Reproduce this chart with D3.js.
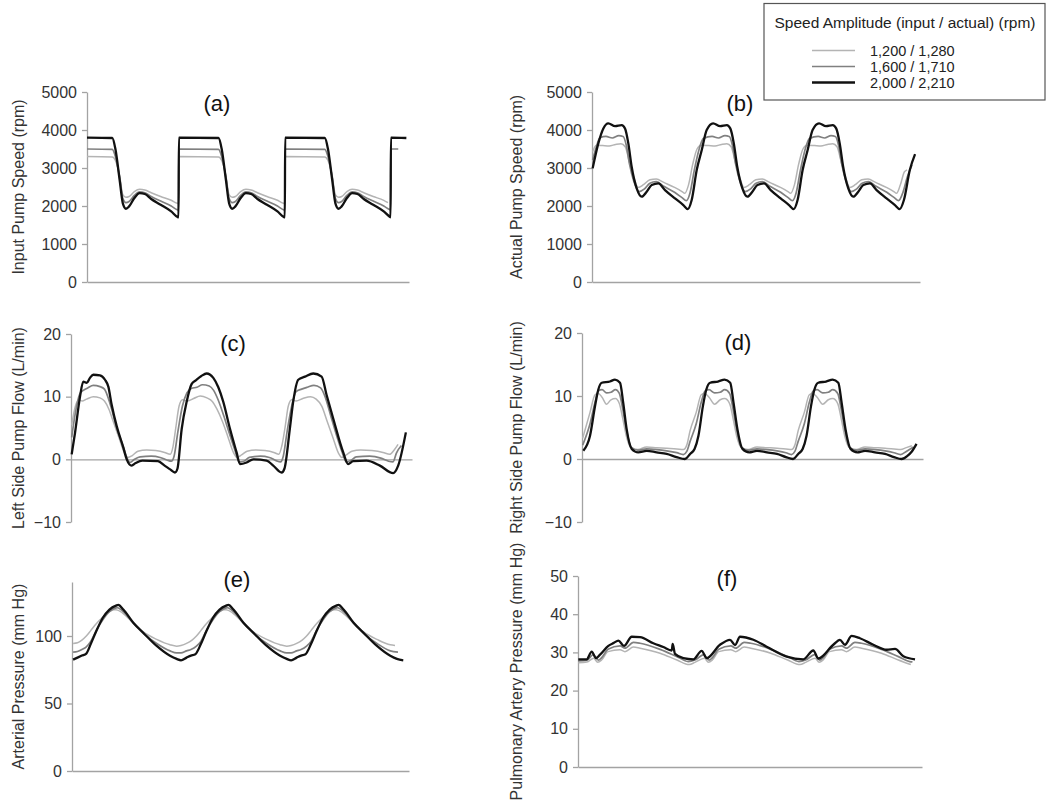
<!DOCTYPE html>
<html>
<head>
<meta charset="utf-8">
<script src="https://cdn.jsdelivr.net/npm/d3@7"></script>
<style>
  html, body { margin: 0; padding: 0; background: #fff; }
  svg { display: block; font-family: "Liberation Sans", Arial, sans-serif; }
</style>
</head>
<body>
<svg id="chart" width="1050" height="810"></svg>
<script>
// ---------------- DATA (time in arbitrary units, ~100 per cardiac cycle) ----------------
const legendTitle = "Speed Amplitude (input / actual) (rpm)";
const seriesNames = ["1,200 / 1,280", "1,600 / 1,710", "2,000 / 2,210"];

const speedTicks = [0, 1000, 2000, 3000, 4000, 5000];
const flowTicks = [-10, 0, 10, 20];
const aoTicks = [0, 50, 100];
const paTicks = [0, 10, 20, 30, 40, 50];

// (a) Input pump speed (rpm)
const aLight = [[0,3300],[24,3290],[27,3200],[31,2800],[34,2300],[37,2230],[40,2250],[45,2380],[50,2440],[55,2420],[61,2350],[70,2250],[80,2150],[86,2070],[87,2065],[87.3,3300],[125,3290],[128,3200],[132,2800],[135,2300],[138,2230],[141,2250],[146,2380],[151,2440],[156,2420],[162,2350],[171,2250],[181,2150],[187,2070],[188,2065],[188.3,3300],[226,3290],[229,3200],[233,2800],[236,2300],[239,2230],[242,2250],[247,2380],[252,2440],[257,2420],[263,2350],[272,2250],[282,2150],[286,2090]];
const aMid = [[0,3500],[24,3490],[27,3300],[31,2750],[34,2200],[37,2090],[40,2120],[45,2280],[50,2370],[55,2350],[61,2250],[70,2130],[80,2000],[86,1900],[87,1895],[87.3,3500],[125,3490],[128,3300],[132,2750],[135,2200],[138,2090],[141,2120],[146,2280],[151,2370],[156,2350],[162,2250],[171,2130],[181,2000],[187,1900],[188,1895],[188.3,3500],[226,3490],[229,3300],[233,2750],[236,2200],[239,2090],[242,2120],[247,2280],[252,2370],[257,2350],[263,2250],[272,2130],[282,2000],[288,1900],[288.5,1895],[288.8,3500],[295.8,3500]];
const aBlack = [[0,3800],[24,3790],[27,3500],[31,2690],[34,2077],[37,1928],[40,1990],[45,2210],[50,2340],[55,2315],[61,2183],[70,2033],[80,1857],[86,1709],[87,1700],[87.3,3800],[125,3790],[128,3500],[132,2690],[135,2077],[138,1928],[141,1990],[146,2210],[151,2340],[156,2315],[162,2183],[171,2033],[181,1857],[187,1709],[188,1700],[188.3,3800],[226,3790],[229,3500],[233,2690],[236,2077],[239,1928],[242,1990],[247,2210],[252,2340],[257,2315],[263,2183],[272,2033],[282,1857],[288,1709],[288.5,1700],[288.8,3800],[303.5,3790]];

// (b) Actual pump speed (rpm)
const bLight = [[0.6,3430],[4,3600],[10,3590],[16,3580],[22,3620],[27,3640],[31,3560],[35,3150],[39,2750],[43,2490],[48,2560],[54,2690],[60,2710],[67,2620],[77,2490],[84,2380],[86.5,2333],[90,2550],[94,3100],[98,3500],[102,3600],[108.8,3590],[114.8,3580],[120.8,3620],[125.8,3640],[129.8,3560],[133.8,3150],[137.8,2750],[141.8,2490],[146.8,2560],[152.8,2690],[158.8,2710],[165.8,2620],[175.8,2490],[182.8,2380],[185.3,2333],[188.8,2550],[192.8,3100],[196.8,3500],[200.8,3600],[207.6,3590],[213.6,3580],[219.6,3620],[224.6,3640],[228.6,3560],[232.6,3150],[236.6,2750],[240.6,2490],[245.6,2560],[251.6,2690],[257.6,2710],[264.6,2620],[274.6,2490],[281.6,2380],[284.1,2333],[287.6,2550],[291.5,2900],[294,2950]];
const bMid = [[0.6,3209],[4,3550],[7.5,3800],[13,3830],[19,3790],[25,3850],[29,3830],[32,3600],[35,3100],[39,2650],[44,2380],[49,2450],[54,2600],[60,2640],[67,2520],[77,2360],[84,2220],[88,2140],[91.5,2350],[95.5,2950],[99.5,3450],[104,3780],[112,3830],[118,3790],[124,3850],[128,3830],[131,3600],[134,3100],[138,2650],[143,2380],[148,2450],[153,2600],[159,2640],[166,2520],[176,2360],[183,2220],[187,2140],[190.5,2350],[194.5,2950],[198.5,3450],[203,3780],[211,3830],[217,3790],[223,3850],[227,3830],[230,3600],[233,3100],[237,2650],[242,2380],[247,2450],[252,2600],[258,2640],[265,2520],[275,2360],[282,2220],[286,2140],[290,2350],[294,2750],[298.5,3080]];
const bBlack = [[0.6,2990],[5.9,3648],[10.6,4042],[15.2,4174],[21.5,4103],[27.7,4129],[30.8,4042],[33.9,3648],[37,3033],[41.7,2464],[46.4,2245],[51,2376],[55.7,2551],[61.9,2595],[68.1,2420],[77.4,2201],[85.2,2025],[89.3,1920],[93,2157],[97.7,2946],[102.4,3472],[107,3998],[113,4174],[119.5,4103],[125.8,4129],[129,4042],[132.3,3648],[135.5,3033],[140.3,2464],[145,2245],[149.6,2376],[154.3,2551],[160.5,2595],[166.7,2420],[176,2201],[183.8,2025],[188.1,1920],[191.8,2157],[196.5,2946],[201.2,3472],[205.8,3998],[211.8,4174],[218.3,4103],[224.6,4129],[227.8,4042],[231.1,3648],[234.3,3033],[239.1,2464],[243.8,2245],[248.4,2376],[253.1,2551],[259.3,2595],[265.5,2420],[274.8,2201],[282.6,2025],[287,1920],[291,2157],[296.5,2946],[301.4,3366]];

// (c) Left side pump flow (L/min)
const cLight = [[0.6,5.5],[4,8.5],[7,9.5],[10,9.3],[14,9.6],[20,10],[26,9.8],[30,9.3],[34,8],[38,6],[43,3.5],[48,1],[51,0.3],[55,0.6],[60,1.3],[68,1.5],[76,1.4],[84,1.1],[89,0.8],[91.5,2],[94,5],[97,8.5],[100,9.5],[104,9.3],[110,9.7],[116,10.1],[122,9.8],[127,9.2],[131,8],[136,6],[141,3.5],[146,1],[149,0.3],[153,0.7],[158,1.3],[166,1.5],[174,1.4],[182,1.1],[186.5,0.8],[189,2],[192,5],[195,8.5],[198,9.5],[202,9.3],[208,9.7],[215,10],[220,9.6],[225,8.5],[230,6],[235,3.5],[240,1],[243,0.3],[247,0.7],[252,1.3],[260,1.5],[270,1.4],[280,1.1],[286,0.8],[290,1.5],[293.5,2.4]];
const cMid = [[0.6,3.5],[4,7.5],[8,10.5],[11,11],[15,11.4],[20,11.8],[26,11.6],[30,11.2],[33,10],[36.5,8],[41,5],[47,2],[50,0.3],[53,-0.5],[57,0],[62,0.4],[72,0.5],[80,0.3],[86,-0.1],[90,-0.3],[92.5,0.5],[96,4.5],[100,8.5],[104,10.6],[108,11.3],[113,11.5],[118,11.9],[124,11.7],[128,11],[132,9.5],[137,7],[142,4.2],[147,1.5],[151,-0.4],[155,-0.3],[160,0.3],[170,0.5],[178,0.3],[184,-0.2],[188,-0.4],[190.5,0.5],[194,4.5],[198,8.5],[202,10.8],[207,11.2],[212,11.5],[218,11.8],[224,11.4],[228,10],[233,7],[238,4],[243,1.3],[247,-0.4],[251,-0.2],[256,0.4],[268,0.5],[278,0.2],[285,-0.3],[289,-0.4],[292,1],[296.5,2.2]];
const cBlack = [[0.6,0.8],[3.6,4.2],[8.1,10],[11,12.4],[14.1,12.2],[17,13],[20,13.5],[26,13.4],[30.5,12.7],[33.5,11.6],[36.5,8.7],[41,5.3],[46.9,1.9],[50,0],[54.4,-1],[58,-0.6],[64,-0.2],[78,-0.3],[84,-1],[89,-1.6],[93.3,-2.1],[95.5,-1.5],[99.3,4.8],[103.8,9.2],[108.2,12],[112,12.6],[117,13.3],[121.7,13.7],[127.7,13],[132.2,11.5],[136.6,9.2],[142.6,4.9],[148.6,1.1],[151.6,-0.75],[157.6,-0.5],[163.5,0],[175.5,-0.2],[181.5,-1],[189,-2.1],[191.5,-1.5],[196.4,4.9],[199.4,9.2],[203.9,12.7],[210,13.2],[217.4,13.7],[224.9,13.2],[229.3,10.3],[235.3,6.5],[244.3,1.1],[248.7,-0.75],[253.2,-0.3],[265.2,-0.2],[277.2,-1],[289.1,-2.2],[293.6,-1],[300.5,4.3]];

// (d) Right side pump flow (L/min)
const dLight = [[0.6,3.3],[7.2,7.4],[11.7,10.2],[14.6,10.4],[18,9.8],[22,8.7],[26,9.4],[30,9.6],[33.5,8.8],[36.5,6.5],[40,3.5],[44,1.8],[50,1.5],[58,1.9],[67,1.8],[76,1.7],[85,1.6],[91,1.5],[94,2.2],[97,4.5],[102.5,7.4],[107,10.2],[110,10.4],[114,9.8],[119,8.7],[124,9.4],[128,9.6],[132.5,8.8],[135.5,6.5],[139,3.5],[143,1.8],[149,1.5],[157,1.9],[166,1.8],[175,1.7],[183,1.6],[188,1.5],[191,2.2],[194,4.5],[199.5,7.4],[204,10.2],[207,10.4],[211,9.8],[216,8.7],[221,9.4],[225,9.6],[229.5,8.8],[232.5,6.5],[236,3.5],[240,1.8],[246,1.5],[254,1.9],[263,1.8],[272,1.7],[280,1.6],[286,1.5],[291,1.8],[296,2.1]];
const dMid = [[0.6,2.2],[7.2,5.6],[11.7,9],[14.6,10.8],[18,11],[22,10.5],[26,10.6],[30,11],[33.5,10.4],[36.5,8],[40,4.5],[44,1.9],[50,1.4],[58,1.6],[67,1.5],[76,1.3],[85,1],[91,0.7],[94,1.2],[97,2.8],[102.5,5.6],[107,9],[110.5,10.8],[114,11],[119,10.5],[124,10.6],[128,11],[132.5,10.4],[135.5,8],[139,4.5],[143,1.9],[149,1.4],[157,1.6],[166,1.5],[175,1.3],[183,1],[188,0.7],[191,1.2],[194,2.8],[199.5,5.6],[204,9],[207.5,10.8],[211,11],[216,10.5],[221,10.6],[225,11],[229.5,10.4],[232.5,8],[236,4.5],[240,1.9],[246,1.4],[254,1.6],[263,1.5],[272,1.3],[280,1],[286,0.7],[291,1.2],[297.5,1.9]];
const dBlack = [[1.2,1.3],[7.2,3.7],[11.7,8.4],[14.6,11],[17.7,12.1],[25.1,12.3],[29.6,12.6],[34.1,12.1],[37,8.9],[40.1,4.7],[44.6,1.6],[50.5,1.05],[58,1.3],[67,1.05],[76,0.8],[84.9,0.3],[92.4,0],[97,0.8],[101,1.6],[104.5,3.7],[108.5,8.4],[111.5,11],[115,12.1],[122,12.3],[128,12.6],[133,12.1],[136,8.9],[139.5,4.7],[144,1.6],[150,1.05],[157,1.3],[166,1.05],[175,0.8],[183,0.3],[189.4,0],[194,0.8],[198,1.6],[201.5,3.7],[205.5,8.4],[208.5,11],[212,12.1],[219,12.3],[225,12.6],[230,12.1],[233,8.9],[236.5,4.7],[241,1.6],[247,1.05],[254,1.3],[263,1.05],[272,0.8],[280,0.3],[286.8,0],[292,0.5],[296,1.2],[300.2,2.4]];

// (e) Arterial pressure (mm Hg)
const eLight = [[1,94.5],[5,95],[9,97],[13,100],[17,104],[22,109],[28,114],[34,118],[38,119.5],[40,119.5],[46,117],[55.7,109.5],[64.7,103],[76.9,97.5],[89,93.5],[95,92.5],[99,93],[104,94.5],[109,97],[113,100],[117,104],[122,109],[128,114],[134,118],[138,119.5],[140,119.5],[146,117],[155.7,109.5],[164.7,103],[176.9,97.5],[189,93.5],[195,92.5],[199,93],[204,94.5],[209,97],[213,100],[217,104],[222,109],[228,114],[234,118],[238,119.5],[240,119.5],[246,117],[255.7,109.5],[264.7,103],[276.9,97.5],[289,93.5],[293.3,93]];
const eMid = [[1,88],[5,88.5],[9,90],[13,92],[17,96],[22,104],[28,112],[34,118],[39,120.5],[41,121],[46,118.5],[55.7,109.5],[64.7,102],[76.9,94.5],[89,89],[95,87.5],[99,87.5],[104,89],[108,90],[113,92.5],[117,96],[122,104],[128,112],[134,118],[139,120.5],[141,121],[146,118.5],[155.7,109.5],[164.7,102],[176.9,94.5],[189,89],[195,87.5],[199,87.5],[204,89],[208,90],[213,92.5],[217,96],[222,104],[228,112],[234,118],[239,120.5],[241,121],[246,118.5],[255.7,109.5],[264.7,102],[276.9,94.5],[289,89],[296,88]];
const eBlack = [[1,82.5],[5,84],[9,85.5],[13,87],[17,94],[22,103.5],[28,113.5],[34,119.6],[40,122.5],[42,123],[46.6,119.6],[55.7,109.8],[64.7,102.4],[76.9,92.6],[89,85.3],[95,83],[99,82],[104,84],[108,85.5],[112,86.5],[117,94],[122,103.5],[128,113.5],[134,119.6],[140,122.5],[142,123],[146.6,119.6],[155.7,109.8],[164.7,102.4],[176.9,92.6],[189,85.3],[195,83],[199,82],[204,84],[208,85.5],[212,86.5],[217,94],[222,103.5],[228,113.5],[234,119.6],[240,122.5],[242,123],[246.6,119.6],[255.7,109.8],[264.7,102.4],[276.9,92.6],[289,85.3],[295,83],[300.8,82]];

// (f) Pulmonary artery pressure (mm Hg)
const fLight = [[0.3,27.3],[8,27.5],[14,28.5],[17.5,27.4],[21,28],[26.7,30.2],[37.4,30.7],[41.8,30.2],[49.3,31.4],[55.2,31.1],[73,29.8],[88,28],[99,26.8],[104,27.4],[112.5,28.5],[116,27.4],[119.5,28],[125.2,30.2],[135.9,30.7],[140.3,30.2],[147.8,31.4],[153.7,31.1],[171.5,29.8],[186.5,28],[197.5,26.8],[202.5,27.4],[211,28.5],[214.5,27.4],[218,28],[223.7,30.2],[234.4,30.7],[238.8,30.2],[246.3,31.4],[252.2,31.1],[270,29.8],[285,28],[296,26.8]];
const fMid = [[0.3,27.8],[8,28],[13.6,29.4],[18,28],[21,28.6],[26.7,30.8],[37.4,31.7],[41.8,31.1],[49.3,32.6],[55.2,32.4],[73,30.8],[88,28.9],[98,27.6],[104,28],[112,29.4],[116.5,28],[119.5,28.6],[125.2,30.8],[135.9,31.7],[140.3,31.1],[147.8,32.6],[153.7,32.4],[171.5,30.8],[186.5,28.9],[196.5,27.6],[202.5,28],[210.6,29.4],[215,28],[218,28.6],[223.7,30.8],[234.4,31.7],[238.8,31.1],[246.3,32.6],[252.2,32.4],[270,30.8],[285,28.9],[295,27.6],[297.5,27.5]];
const fBlack = [[0.3,28.2],[7.7,28.2],[12.2,30.2],[16,28.5],[19.6,29.4],[27,31.7],[32,32.5],[35.9,33.1],[40.9,31.7],[47.8,34.1],[55.2,34],[67,32.4],[75.9,31.4],[83.4,30.5],[84.2,32.2],[86.3,29.6],[93.7,28.5],[102.6,28.2],[110,30.4],[114.5,28.5],[126.3,32],[135.2,33.3],[139.7,31.9],[144.1,34.1],[156,33.3],[167.8,31.5],[185.6,28.9],[200.4,28.2],[209.3,30.5],[213.8,28.4],[227.1,32],[233,33.3],[237.5,32],[243.4,34.3],[250.8,33.7],[262.7,32],[274.5,30.7],[282,30.9],[289.4,29],[299.8,28.2]];

// ---------------- STYLE / LAYOUT ----------------
const seriesColors = ["#b4b4b4", "#808080", "#111111"];
const seriesWidths = [1.5, 1.7, 2.3];
const axisColor = "#a3a3a3";
const textColor = "#333333";
const timeDomain = [0, 306];

const panels = [
  { label: "(a)", title: "Input Pump Speed (rpm)", data: [aLight, aMid, aBlack], yDomain: [0, 5000], ticks: speedTicks,
    x0: 87, x1: 409, yTop: 92, yBot: 282, labelX: 217, labelY: 111, titleX: 18, xAxisAtZero: false },
  { label: "(b)", title: "Actual Pump Speed (rpm)", data: [bLight, bMid, bBlack], yDomain: [0, 5000], ticks: speedTicks,
    x0: 592, x1: 920, yTop: 92, yBot: 282, labelX: 740, labelY: 111, titleX: 516, xAxisAtZero: false },
  { label: "(c)", title: "Left Side Pump Flow (L/min)", data: [cLight, cMid, cBlack], yDomain: [-10, 20], ticks: flowTicks,
    x0: 71, x1: 412, yTop: 334, yBot: 522, labelX: 233, labelY: 351, titleX: 18, xAxisAtZero: true },
  { label: "(d)", title: "Right Side Pump Flow (L/min)", data: [dLight, dMid, dBlack], yDomain: [-10, 20], ticks: flowTicks,
    x0: 582, x1: 923, yTop: 333, yBot: 522, labelX: 738, labelY: 350, titleX: 516, xAxisAtZero: true },
  { label: "(e)", title: "Arterial Pressure (mm Hg)", data: [eLight, eMid, eBlack], yDomain: [0, 140], ticks: aoTicks,
    x0: 72, x1: 409, yTop: 582, yBot: 771, labelX: 237, labelY: 587, titleX: 18, xAxisAtZero: false },
  { label: "(f)", title: "Pulmonary Artery Pressure (mm Hg)", data: [fLight, fMid, fBlack], yDomain: [0, 50], ticks: paTicks,
    x0: 578, x1: 922, yTop: 576, yBot: 767, labelX: 727, labelY: 586, titleX: 516, xAxisAtZero: false }
];

const svg = d3.select("#chart");

panels.forEach(p => {
  const g = svg.append("g");
  const x = d3.scaleLinear().domain(timeDomain).range([p.x0, p.x1]);
  const y = d3.scaleLinear().domain(p.yDomain).range([p.yBot, p.yTop]);

  // y axis
  const yAxis = d3.axisLeft(y).tickValues(p.ticks).tickSize(5).tickSizeOuter(0).tickPadding(5).tickFormat(d3.format("d"));
  const ya = g.append("g").attr("transform", `translate(${p.x0},0)`).call(yAxis);
  ya.select(".domain").attr("stroke", axisColor).attr("stroke-width", 1.3);
  ya.selectAll(".tick line").attr("stroke", axisColor).attr("stroke-width", 1.3);
  ya.selectAll(".tick text").attr("fill", textColor).style("font-size", "16px")
    .style("font-family", '"Liberation Sans", Arial, sans-serif');

  // x axis (no ticks)
  const xAxis = d3.axisBottom(x).tickValues([]).tickSizeOuter(0);
  const baseY = p.xAxisAtZero ? y(0) : y(p.yDomain[0]);
  const xa = g.append("g").attr("transform", `translate(0,${baseY})`).call(xAxis);
  xa.select(".domain").attr("stroke", axisColor).attr("stroke-width", 1.3);

  // lines
  const line = d3.line().x(d => x(d[0])).y(d => y(d[1])).curve(d3.curveMonotoneX);
  p.data.forEach((s, i) => {
    g.append("path").datum(s).attr("d", line)
      .attr("fill", "none").attr("stroke", seriesColors[i]).attr("stroke-width", seriesWidths[i])
      .attr("stroke-linejoin", "round");
  });

  // panel label
  g.append("text").attr("x", p.labelX).attr("y", p.labelY).attr("text-anchor", "middle")
    .attr("fill", "#111").style("font-size", "22px").text(p.label);

  // axis title
  const cy = (p.yTop + p.yBot) / 2;
  g.append("text").attr("transform", `translate(${p.titleX},${cy}) rotate(-90)`)
    .attr("text-anchor", "middle").attr("dy", "0.35em").attr("fill", textColor)
    .style("font-size", "16px").text(p.title);
});

// legend
const lg = svg.append("g");
lg.append("rect").attr("x", 764).attr("y", 3.5).attr("width", 281).attr("height", 96.5)
  .attr("fill", "#fff").attr("stroke", "#555").attr("stroke-width", 1.2);
lg.append("text").attr("x", 905).attr("y", 28).attr("text-anchor", "middle").attr("fill", "#222")
  .style("font-size", "15.5px").text(legendTitle);
const rowY = [50.5, 66.5, 82.5];
seriesNames.forEach((n, i) => {
  lg.append("line").attr("x1", 812).attr("x2", 855).attr("y1", rowY[i]).attr("y2", rowY[i])
    .attr("stroke", seriesColors[i]).attr("stroke-width", seriesWidths[i]);
  lg.append("text").attr("x", 870).attr("y", rowY[i] + 5.2).attr("fill", "#222")
    .style("font-size", "14.5px").text(n);
});
</script>
</body>
</html>
